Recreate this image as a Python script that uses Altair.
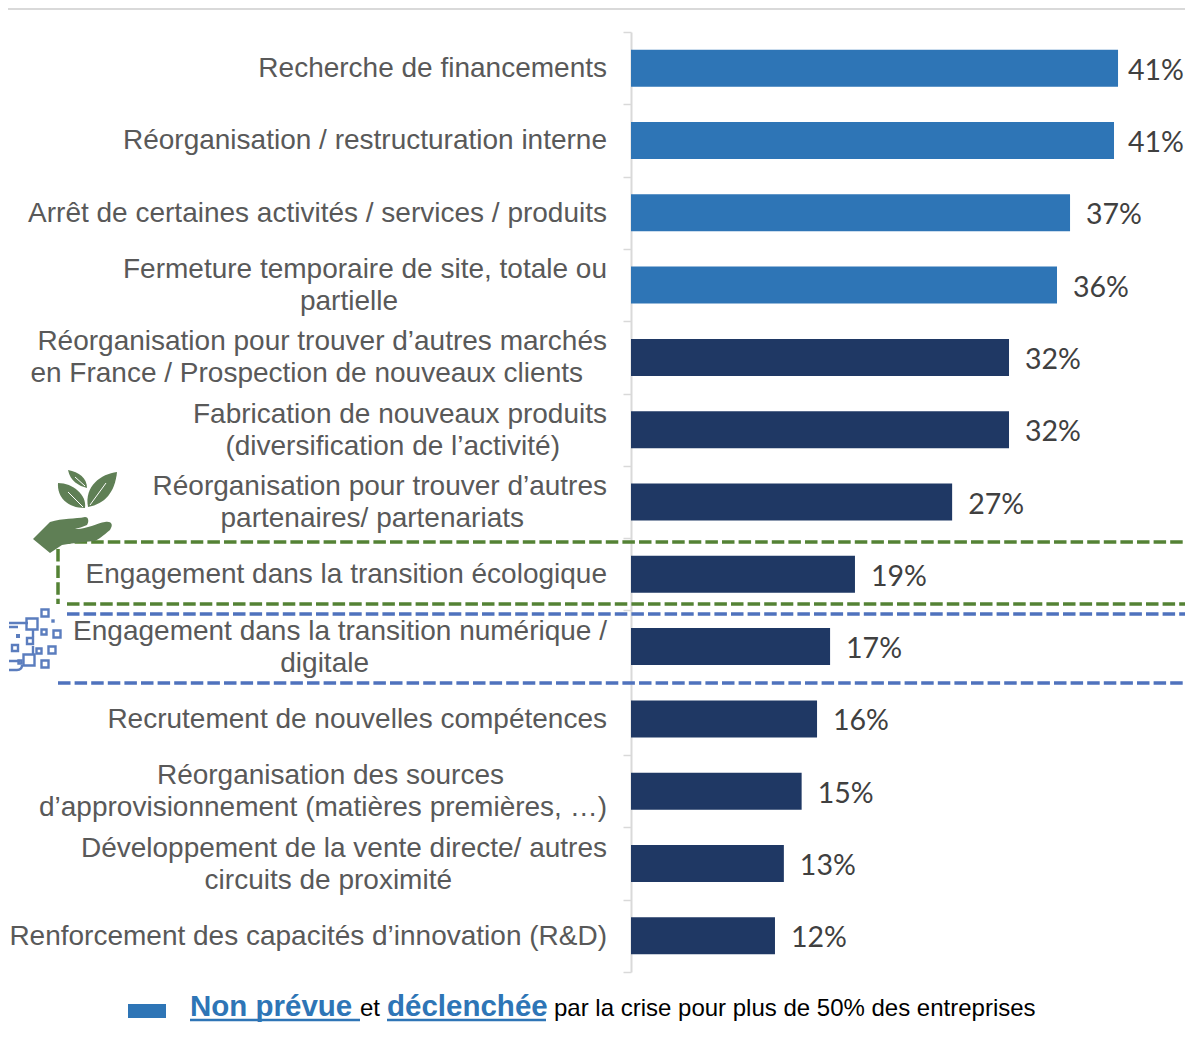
import altair as alt
import pandas as pd

categories = [
    "Recherche de financements", "Réorganisation / restructuration interne",
    "Arrêt de certaines activités / services / produits", "Fermeture temporaire de site, totale ou partielle",
    "Réorganisation pour trouver d’autres marchés en France / Prospection de nouveaux clients",
    "Fabrication de nouveaux produits (diversification de l’activité)",
    "Réorganisation pour trouver d’autres partenaires/ partenariats",
    "Engagement dans la transition écologique", "Engagement dans la transition numérique / digitale",
    "Recrutement de nouvelles compétences",
    "Réorganisation des sources d’approvisionnement (matières premières, …)",
    "Développement de la vente directe/ autres circuits de proximité",
    "Renforcement des capacités d’innovation (R&D)",
]
values = [41.1, 40.76, 37.05, 35.95, 31.9, 31.9, 27.1, 18.9, 16.8, 15.7, 14.4, 12.9, 12.15]
value_labels = ["41%", "41%", "37%", "36%", "32%", "32%", "27%", "19%", "17%", "16%", "15%", "13%", "12%"]
groups = ["a"] * 4 + ["b"] * 9
label_lines = [
    ["Recherche de financements"], ["Réorganisation / restructuration interne"],
    ["Arrêt de certaines activités / services / produits"],
    ["Fermeture temporaire de site, totale ou", "partielle"],
    ["Réorganisation pour trouver d’autres marchés", "en France / Prospection de nouveaux clients"],
    ["Fabrication de nouveaux produits", "(diversification de l’activité)"],
    ["Réorganisation pour trouver d’autres", "partenaires/ partenariats"],
    ["Engagement dans la transition écologique"],
    ["Engagement dans la transition numérique /", "digitale"],
    ["Recrutement de nouvelles compétences"],
    ["Réorganisation des sources", "d’approvisionnement (matières premières, …)"],
    ["Développement de la vente directe/ autres", "circuits de proximité"],
    ["Renforcement des capacités d’innovation (R&D)"],
]

# layout (page pixels)
X0, Y0 = 631, 32
RIGHT = 1185
PX_W, PX_H = RIGHT - X0, 940
PER_PCT = 11.85
# right edge of each text line, page pixels
line_right = [[607], [607], [607], [607, 398], [607, 583], [607, 560], [607, 524], [607], [607, 369], [607],
              [504, 607], [607, 452], [607]]
BLUE, NAVY, GREY, GREEN, DBLUE = "#2E75B6", "#1F3864", "#595959", "#548235", "#4F72BD"
LEAF = "#5F7F55"
ICON = "#5B7DBE"

df = pd.DataFrame({"cat": categories, "v": values, "lab": value_labels, "g": groups})
y_enc = alt.Y("cat:N", sort=categories, scale=alt.Scale(domain=categories, paddingInner=0, paddingOuter=0),
              axis=alt.Axis(title=None, labels=False, tickBand="extent", tickSize=8, tickColor="#D9D9D9", tickWidth=1.5,
                            domainColor="#D9D9D9", domainWidth=2, grid=False))
x_enc = alt.X("v:Q", scale=alt.Scale(domain=[0, PX_W / PER_PCT], nice=False), axis=None)

bars = alt.Chart(df).mark_bar(size=37).encode(
    x=x_enc, y=y_enc,
    color=alt.Color("g:N", scale=alt.Scale(domain=["a", "b"], range=[BLUE, NAVY]), legend=None))


def value_layer(rows, dx):
    return alt.Chart(rows).mark_text(align="left", dx=dx, dy=2.5, font="Lato", fontSize=28.5, color="#404040").encode(
        x=x_enc, y=y_enc, text="lab:N")


# the two longest labels are nudged so that they stay inside the canvas
layers = [bars, value_layer(df.iloc[2:], 16), value_layer(df.iloc[:1], 10), value_layer(df.iloc[1:2], 14)]
for cat, lines, rights in zip(categories, label_lines, line_right):
    n = len(lines)
    for i, (t, r) in enumerate(zip(lines, rights)):
        dy = 1 if n == 1 else (-15 if i == 0 else 17)
        layers.append(alt.Chart(pd.DataFrame({"cat": [cat], "t": [t]})).mark_text(
            align="right", dy=dy, font="Liberation Sans", fontSize=28, color=GREY).encode(
            x=alt.value(r - X0), y=y_enc, text="t:N"))


def rule(x1, x2, y, color, dash=None, w=3.5):
    kw = {"strokeDash": dash} if dash else {}
    return alt.Chart(pd.DataFrame({"a": [0]})).mark_rule(color=color, strokeWidth=w, clip=False, **kw).encode(
        x=alt.value(x1 - X0), x2=alt.value(x2 - X0), y=alt.value(y - Y0))


def vrule(x, y1, y2, color, dash=None, w=3.5):
    kw = {"strokeDash": dash} if dash else {}
    return alt.Chart(pd.DataFrame({"a": [0]})).mark_rule(color=color, strokeWidth=w, clip=False, **kw).encode(
        x=alt.value(x - X0), y=alt.value(y1 - Y0), y2=alt.value(y2 - Y0))


dash = [12.5, 4.1]
layers += [
    rule(0, RIGHT, 9, "#D9D9D9", w=2),
    rule(58, RIGHT, 542, GREEN, dash), rule(67, RIGHT, 604, GREEN, dash), vrule(58, 549, 604, GREEN, dash),
    rule(67, RIGHT, 614, DBLUE, dash), rule(58, RIGHT, 683, DBLUE, dash),
]


def shape(path, ox, oy, fill=None, stroke=None, w=2.2):
    # path is written relative to its own origin; size=4 renders one path unit as one pixel
    if fill:
        kw = {"fill": fill, "filled": True, "strokeWidth": 0}
    else:
        kw = {"stroke": stroke, "filled": False, "strokeWidth": w}
    return alt.Chart(pd.DataFrame({"a": [0]})).mark_point(shape=path, size=4, opacity=1, clip=False, **kw).encode(
        x=alt.value(ox - X0), y=alt.value(oy - Y0))


hand = ("M-42 29L-25 12C-12 8 0 9 10 7C14 7 14 12 12 15C8 17 3 18 0 19C10 20 22 13 30 12"
        "C36 11 39 14 35 20C28 26 24 29 20 31C8 32 -3 33 -13 35L-25 43Z")
leaf_c = "M-7 -40C4 -38 12 -32 12 -22C4 -24 -5 -29 -7 -40Z"
leaf_r = "M42 -38C26 -36 9 -24 13 -3C30 -6 40 -18 42 -38Z"
leaf_l = "M-17 -27C-18 -13 -8 -2 10 -2C12 -15 -2 -27 -17 -27Z"
layers += [shape(p, 75, 510, fill=LEAF) for p in (hand, leaf_c, leaf_r, leaf_l)]
layers.append(shape("M8 -3L-7 -18M15 -5L31 -27M10 -24L0 -33", 75, 510, stroke="#FFFFFF", w=1))

layers.append(shape("M-25 -22H-6M-1 -15V-8M-1 1V9M-25 16H-14M-25 25H-17Q-12 25 -12 20M-25 -18H-16", 34, 645,
                    stroke=ICON, w=2.4))
for sx, sy, s in [(45, 613, 7), (57, 634, 7), (44, 632, 5), (52, 650, 7), (39, 651, 5), (45, 664, 7), (32, 624, 11),
                  (30, 641, 6), (15, 648, 6), (29, 660, 11), (20, 662, 3)]:
    h = s / 2
    layers.append(shape(f"M{-h} {-h}H{h}V{h}H{-h}Z", sx, sy, stroke=ICON, w=2.4))
for sx, sy, s in [(53, 621, 3.4), (18, 636, 4)]:
    h = s / 2
    layers.append(shape(f"M{-h} {-h}H{h}V{h}H{-h}Z", sx, sy, fill=ICON))

# legend
layers.append(alt.Chart(pd.DataFrame({"a": [0]})).mark_rect(color=BLUE, clip=False).encode(
    x=alt.value(128 - X0), x2=alt.value(166 - X0), y=alt.value(1004 - Y0), y2=alt.value(1018 - Y0)))
for t, x, bold, col, fs in [("Non prévue", 190, True, BLUE, 29.5), ("et", 360, False, "#000000", 24),
                            ("déclenchée", 387, True, BLUE, 29.5),
                            ("par la crise pour plus de 50% des entreprises", 554, False, "#000000", 24)]:
    layers.append(alt.Chart(pd.DataFrame({"t": [t]})).mark_text(
        align="left", baseline="alphabetic", font="Liberation Sans", fontSize=fs,
        fontWeight="bold" if bold else "normal", color=col, clip=False).encode(
        x=alt.value(x - X0), y=alt.value(1016 - Y0), text="t:N"))
layers += [rule(190, 360, 1020, BLUE, w=2.5), rule(387, 546, 1020, BLUE, w=2.5)]

chart = alt.layer(*layers).resolve_scale(y="shared", x="shared").properties(
    width=PX_W, height=PX_H, autosize=alt.AutoSizeParams(type="none"),
    padding={"left": X0 - 8, "top": Y0 - 8, "right": 0, "bottom": 52},
).configure_view(stroke=None)
chart.save("out.html", embed_options={"renderer": "svg", "actions": False})
